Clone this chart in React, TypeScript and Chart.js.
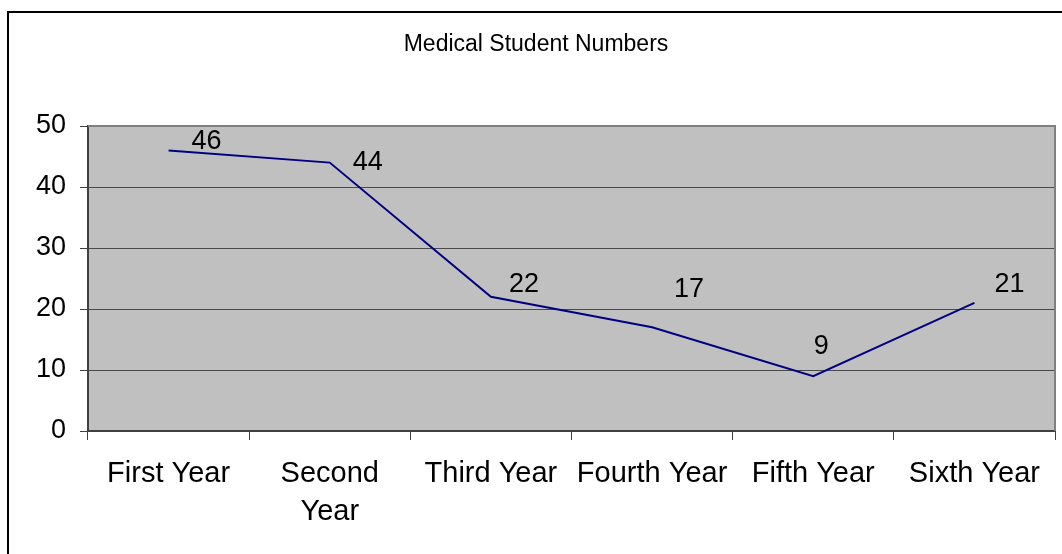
import React, { useEffect, useRef } from "react";
import { Chart, registerables } from "chart.js";

Chart.register(...registerables);

const title = "Medical Student Numbers";
const categories: (string | string[])[] = [
  "First Year",
  ["Second", "Year"],
  "Third Year",
  "Fourth Year",
  "Fifth Year",
  "Sixth Year",
];
const students = [46, 44, 22, 17, 9, 21];
const yTicks = [0, 10, 20, 30, 40, 50];

// pixel offsets of each value label relative to its point (style only)
const labelOffsets = [
  [38, -9],
  [38, 0],
  [33, -12],
  [37, -38],
  [8, -30],
  [35, -18],
];

const FONT = "'Liberation Sans', Arial, sans-serif";

const decorPlugin = {
  id: "decor",
  beforeDraw(chart: any) {
    const { ctx, chartArea } = chart;
    ctx.save();
    ctx.fillStyle = "#ffffff";
    ctx.fillRect(0, 0, chart.width, chart.height);
    ctx.fillStyle = "#C0C0C0";
    ctx.fillRect(
      chartArea.left,
      chartArea.top,
      chartArea.right - chartArea.left,
      chartArea.bottom - chartArea.top
    );
    // outer frame (left and top visible)
    ctx.fillStyle = "#000000";
    ctx.fillRect(7, 11, 2, chart.height);
    ctx.fillRect(7, 11, chart.width, 2);
    // title
    ctx.fillStyle = "#000000";
    ctx.font = `23px ${FONT}`;
    ctx.textAlign = "center";
    ctx.textBaseline = "middle";
    ctx.fillText(title, 536, 45);
    ctx.restore();
  },
  beforeDatasetsDraw(chart: any) {
    const { ctx, chartArea } = chart;
    ctx.save();
    ctx.fillStyle = "#808080";
    ctx.fillRect(chartArea.right - 1, chartArea.top - 1, 2, chartArea.bottom - chartArea.top + 1);
    ctx.fillRect(chartArea.left, chartArea.top - 1, chartArea.right - chartArea.left, 2);
    ctx.restore();
  },
  afterDatasetsDraw(chart: any) {
    const { ctx } = chart;
    const meta = chart.getDatasetMeta(0);
    ctx.save();
    ctx.fillStyle = "#000000";
    ctx.font = `27px ${FONT}`;
    ctx.textAlign = "center";
    ctx.textBaseline = "middle";
    meta.data.forEach((pt: any, i: number) => {
      const off = labelOffsets[i] || [0, 0];
      ctx.fillText(String(students[i]), pt.x + off[0], pt.y + off[1]);
    });
    ctx.restore();
  },
};

export default function App() {
  const ref = useRef<HTMLCanvasElement>(null);
  useEffect(() => {
    if (!ref.current) return;
    const chart = new Chart(ref.current, {
      type: "line",
      data: {
        labels: categories as any,
        datasets: [
          {
            data: students,
            borderColor: "#000080",
            borderWidth: 2,
            pointRadius: 0,
            tension: 0,
            fill: false,
          },
        ],
      },
      options: {
        animation: false,
        responsive: false,
        layout: { padding: { left: 0, right: 7, top: 126, bottom: 0 } },
        plugins: {
          legend: { display: false },
          title: { display: false },
          tooltip: { enabled: false },
        },
        scales: {
          x: {
            offset: true,
            grid: {
              offset: true,
              drawOnChartArea: false,
              drawTicks: true,
              tickLength: 9,
              tickColor: "#404040",
              tickWidth: 1,
            },
            border: { display: true, color: "#404040", width: 2 },
            ticks: {
              autoSkip: false,
              maxRotation: 0,
              minRotation: 0,
              color: "#000000",
              padding: 15,
              font: { family: FONT, size: 29, lineHeight: 1.3 },
            },
            afterFit(scale: any) {
              scale.height = 123;
            },
          },
          y: {
            min: 0,
            max: 50,
            afterBuildTicks(scale: any) {
              scale.ticks = yTicks.map((v) => ({ value: v }));
            },
            grid: {
              color: (c: any) => (c.tick && c.tick.value === 50 ? "#808080" : "#4a4a4a"),
              lineWidth: 1,
              drawTicks: true,
              tickLength: 8,
              tickColor: "#404040",
            },
            border: { display: true, color: "#404040", width: 2 },
            ticks: {
              color: "#000000",
              padding: 14,
              font: { family: FONT, size: 27 },
            },
            afterFit(scale: any) {
              scale.width = 88;
            },
          },
        },
      },
      plugins: [decorPlugin],
    });
    return () => chart.destroy();
  }, []);
  return (
    <div
      style={{
        position: "fixed",
        left: 0,
        top: 0,
        width: 1062,
        height: 554,
        overflow: "hidden",
        background: "#fff",
      }}
    >
      <canvas ref={ref} width={1062} height={554} style={{ width: 1062, height: 554, display: "block" }} />
    </div>
  );
}
